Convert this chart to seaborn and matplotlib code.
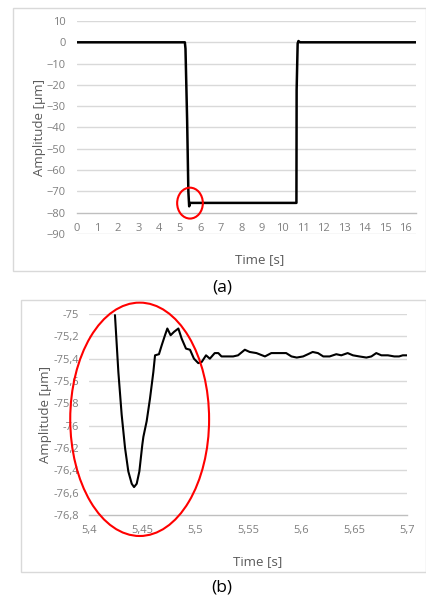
import matplotlib
matplotlib.use("Agg")
import matplotlib.pyplot as plt
import seaborn as sns
import numpy as np
import pandas as pd
from matplotlib.patches import Ellipse, Rectangle
from matplotlib.ticker import FuncFormatter, FixedLocator

# ---------------- data ----------------
# panel (a): full step response
time_a = [0, 5.25, 5.28, 5.36, 5.42, 5.46, 5.5, 10.68, 10.69, 10.74, 10.78, 10.85, 16.5]
amp_a = [0, 0, -3, -36.5, -70, -77, -75.4, -75.4, -22.4, -0.5, 0.6, 0, 0]

# panel (b): zoom on the settling after the step
time_b = [5.4245, 5.4277, 5.4308, 5.434, 5.4371, 5.4403, 5.4425, 5.445, 5.4475, 5.4503,
          5.4513, 5.4544, 5.4575, 5.4607, 5.4623, 5.466, 5.4686, 5.4717, 5.4739, 5.477,
          5.4802, 5.4843, 5.4874, 5.4915, 5.4953, 5.499, 5.5031, 5.5063, 5.5104, 5.514,
          5.5186, 5.522, 5.525, 5.5296, 5.536, 5.5406, 5.547, 5.5516, 5.558, 5.566,
          5.572, 5.580, 5.586, 5.591, 5.596, 5.602, 5.6066, 5.611, 5.616, 5.621,
          5.627, 5.6333, 5.638, 5.644, 5.649, 5.655, 5.6617, 5.6664, 5.671, 5.6758,
          5.682, 5.688, 5.6925, 5.696, 5.700]
amp_b = [-75.01, -75.52, -75.90, -76.20, -76.41, -76.52, -76.55, -76.52, -76.41, -76.17,
         -76.10, -75.96, -75.76, -75.52, -75.37, -75.36, -75.28, -75.19, -75.13, -75.19,
         -75.16, -75.13, -75.22, -75.31, -75.32, -75.40, -75.44, -75.43, -75.37, -75.40,
         -75.35, -75.35, -75.38, -75.38, -75.38, -75.37, -75.32, -75.34, -75.35, -75.38,
         -75.35, -75.35, -75.35, -75.38, -75.39, -75.38, -75.36, -75.34, -75.35, -75.38,
         -75.38, -75.36, -75.37, -75.35, -75.37, -75.38, -75.39, -75.38, -75.35, -75.37,
         -75.37, -75.38, -75.38, -75.37, -75.37]

yticks_a = [10, 0, -10, -20, -30, -40, -50, -60, -70, -80, -90]
xticks_a = list(range(0, 17))
yticks_b = [-75.0, -75.2, -75.4, -75.6, -75.8, -76.0, -76.2, -76.4, -76.6, -76.8]
xticks_b = [5.4, 5.45, 5.5, 5.55, 5.6, 5.65, 5.7]

# ---------------- style ----------------
sns.set_style("white")
plt.rcParams['font.family'] = ['Open Sans', 'DejaVu Sans']

W, H = 427, 599
fig = plt.figure(figsize=(W / 100, H / 100), dpi=100)

TICK_C = '#7f7f7f'
LAB_C = '#595959'
GRID_C = '#d9d9d9'
AXIS_C = '#bfbfbf'


def fx(px):
    return px / W


def fy(py):
    return 1 - py / H


# frames
for (x0, y0, x1, y1) in [(13, 8, 426.5, 271), (21, 300, 426.5, 572)]:
    fig.patches.append(Rectangle((fx(x0), fy(y1)), fx(x1) - fx(x0), fy(y0) - fy(y1),
                                 transform=fig.transFigure, fill=False,
                                 edgecolor=GRID_C, linewidth=1.0))


def comma(v, pos):
    s = ('%.2f' % v).rstrip('0').rstrip('.')
    return s.replace('.', ',')


# ---------------- panel (a) ----------------
axa = fig.add_axes([fx(77), fy(234), fx(416) - fx(77), fy(21) - fy(234)])
axa.set_facecolor('none')
df_a = pd.DataFrame({'t': time_a, 'a': amp_a})
sns.lineplot(data=df_a, x='t', y='a', ax=axa, color='black', linewidth=1.8,
             estimator=None, sort=False)
axa.set_xlim(0, 16.5)
axa.set_ylim(-90, 10)
for v in yticks_a:
    if v != -80:
        axa.axhline(v, color=GRID_C, linewidth=1.0, zorder=0)
for s in ['top', 'right', 'left']:
    axa.spines[s].set_visible(False)
axa.spines['bottom'].set_position(('data', -80))
axa.spines['bottom'].set_color(AXIS_C)
axa.spines['bottom'].set_linewidth(1.0)
axa.xaxis.set_major_locator(FixedLocator(xticks_a))
axa.yaxis.set_major_locator(FixedLocator(yticks_a))
axa.tick_params(axis='x', direction='inout', length=5.5, width=1.0, color=AXIS_C,
                labelsize=8, labelcolor=TICK_C, pad=5)
axa.tick_params(axis='y', length=0, labelsize=8, labelcolor=TICK_C, pad=8)
axa.set_xlabel('Time [s]', fontsize=9.5, color=LAB_C)
axa.set_ylabel('Amplitude [µm]', fontsize=9.5, color=LAB_C)
axa.xaxis.set_label_coords((260 - 77) / 339, (234 - 260) / 213)
axa.xaxis.label.set_va('center')
axa.yaxis.set_label_coords((40 - 77) / 339, 0.5)
axa.yaxis.label.set_va('center')
axa.add_patch(Ellipse((5.5, -75.5), 1.25, 14.5, fill=False, edgecolor='red',
                      linewidth=1.5, clip_on=False, zorder=5))

# ---------------- panel (b) ----------------
axb = fig.add_axes([fx(89), fy(515), fx(407) - fx(89), fy(314) - fy(515)])
axb.set_facecolor('none')
df_b = pd.DataFrame({'t': time_b, 'a': amp_b})
sns.lineplot(data=df_b, x='t', y='a', ax=axb, color='black', linewidth=1.5,
             estimator=None, sort=False)
axb.set_xlim(5.4, 5.7)
axb.set_ylim(-76.8, -75.0)
for v in yticks_b[:-1]:
    axb.axhline(v, color=GRID_C, linewidth=1.0, zorder=0)
for s in ['top', 'right', 'left']:
    axb.spines[s].set_visible(False)
axb.spines['bottom'].set_color(AXIS_C)
axb.spines['bottom'].set_linewidth(1.0)
axb.xaxis.set_major_locator(FixedLocator(xticks_b))
axb.yaxis.set_major_locator(FixedLocator(yticks_b))
axb.xaxis.set_major_formatter(FuncFormatter(comma))
axb.yaxis.set_major_formatter(FuncFormatter(comma))
axb.tick_params(axis='x', direction='inout', length=5.5, width=1.0, color=AXIS_C,
                labelsize=8, labelcolor=TICK_C, pad=4.5)
axb.tick_params(axis='y', length=0, labelsize=8, labelcolor=TICK_C, pad=7)
axb.set_xlabel('Time [s]', fontsize=9.5, color=LAB_C)
axb.set_ylabel('Amplitude [µm]', fontsize=9.5, color=LAB_C)
axb.xaxis.set_label_coords((258 - 89) / 318, (515 - 562) / 201)
axb.xaxis.label.set_va('center')
axb.yaxis.set_label_coords((46 - 89) / 318, 0.5)
axb.yaxis.label.set_va('center')
axb.add_patch(Ellipse((5.4478, -75.943), 0.131, 2.09, fill=False, edgecolor='red',
                      linewidth=1.5, clip_on=False, zorder=5))

# ---------------- captions ----------------
fig.text(fx(222), fy(287), '(a)', ha='center', va='center', fontsize=12.5, color='black')
fig.text(fx(222), fy(587), '(b)', ha='center', va='center', fontsize=12.5, color='black')

fig.savefig('out.png', dpi=100)
